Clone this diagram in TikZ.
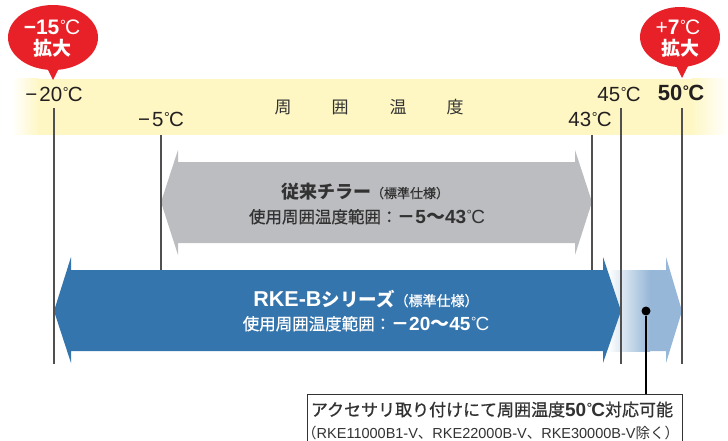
\documentclass[tikz,border=0pt]{standalone}
\usepackage{fontspec}
\setmainfont{Liberation Sans}
\newfontfamily\jp{Noto Sans CJK JP}
\newfontfamily\jpm{Noto Sans CJK JP}[FakeBold=0.7]
\newcommand{\fs}[1]{\fontsize{#1}{#1}\selectfont}
\newcommand{\dgc}{\kern0.03em\raisebox{0.2em}{\scalebox{0.7}{°}}\kern-0.04em C}
\definecolor{band}{RGB}{254,247,196}
\definecolor{redb}{RGB}{232,32,40}
\definecolor{grayarr}{RGB}{188,189,192}
\definecolor{bluearr}{RGB}{53,117,173}
\definecolor{lightarr}{RGB}{150,183,215}
\definecolor{tick}{RGB}{80,80,80}
\definecolor{txt}{RGB}{35,31,32}
\definecolor{darktxt}{RGB}{50,50,50}
\begin{document}
\begin{tikzpicture}[x=1pt,y=-1pt,
  tickline/.style={draw=tick, line width=1.2pt},
  lbl/.style={anchor=base, inner sep=0pt, text=txt},
  bandtxt/.style={inner sep=0pt, text=darktxt, font=\jp\fs{17}},
  whitetxt/.style={anchor=base, inner sep=0pt, text=white},
  graytxt/.style={anchor=base, inner sep=0pt, text=darktxt},
  bubble/.style={fill=redb}]
\useasboundingbox (0,0) rectangle (728,441);
\clip (0,0) rectangle (728,441);

% temperature band
\fill[band] (38,79) rectangle (692,135);
\shade[left color=white,right color=band] (12,79) rectangle (38.5,135);
\shade[left color=band,right color=white] (691.5,79) rectangle (728,135);
\node[bandtxt] (c1) at (283,107) {周};
\node[bandtxt] (c2) at (340,107) {囲};
\node[bandtxt] (c3) at (398,107) {温};
\node[bandtxt] (c4) at (455,107) {度};

% scale labels
\node[lbl] (lm20) at (54,102) {\fs{20.5}−\kern2pt 20\dgc};
\node[lbl] (lm5) at (161,127) {\fs{20.5}−\kern2pt 5\dgc};
\node[lbl] (l43) at (590,127) {\fs{20.5}43\dgc};
\node[lbl] (l45) at (619,102) {\fs{20.5}45\dgc};
\node[lbl] (l50) at (681,101) {\fs{22}\bfseries 50\dgc};

% bubbles
\fill[bubble] (53,37.5) ellipse [x radius=45, y radius=32.5];
\fill[bubble] (44,62) -- (53,80) -- (62,62) -- cycle;
\node[whitetxt] (b1a) at (52,35) {\fs{21}\bfseries −15\mdseries\dgc};
\node[whitetxt] (b1b) at (52,56) {\jp\bfseries\fs{19}拡大};
\fill[bubble] (680,37) ellipse [x radius=40, y radius=30];
\fill[bubble] (673,60) -- (682,78) -- (691,60) -- cycle;
\node[whitetxt] (b2a) at (678,35) {\fs{21}+\bfseries 7\mdseries\dgc};
\node[whitetxt] (b2b) at (680,56) {\jp\bfseries\fs{19}拡大};

% conventional chiller arrow
\fill[grayarr] (161,202) -- (178,150) -- (178,162) -- (575,162) -- (575,150)
  -- (592,202) -- (575,255) -- (575,243) -- (178,243) -- (178,255) -- cycle;
\node[graytxt] (g1) at (365,198) {{\jp\bfseries\fs{18}従来チラー}{\jpm\fs{13}（標準仕様）}};
\node[graytxt] (g2) at (367,223) {{\jpm\fs{16.5}使用周囲温度範囲：}{\jp\bfseries\fs{18}－}\bfseries\fs{19}5{\jp ～}43\mdseries\dgc};

% extension (accessory)
\fill[lightarr] (608,270) -- (666,270) -- (666,257) -- (682,311) -- (666,363) -- (666,351) -- (608,351) -- cycle;
\shade[left color=white,right color=lightarr] (608,270) rectangle (650,351);

% RKE-B arrow
\fill[bluearr] (54,311) -- (71,257) -- (71,270) -- (603,270) -- (603,257)
  -- (621,311) -- (603,363) -- (603,351) -- (71,351) -- (71,363) -- cycle;
\node[whitetxt] (r1) at (366,306) {{\bfseries\fs{21.5}RKE-B}{\jp\bfseries\fs{18.5}シリーズ}{\jpm\fs{14}（標準仕様）}};
\node[whitetxt] (r2) at (366,330) {{\jpm\fs{16.5}使用周囲温度範囲：}{\jp\bfseries\fs{18}－}\bfseries\fs{19}20{\jp ～}45\mdseries\dgc};

% scale lines
\coordinate (t20) at (54,108);  \coordinate (e20) at (54,364);
\coordinate (t5) at (161,135);  \coordinate (e5) at (161,270);
\coordinate (t43) at (592,135); \coordinate (e43) at (592,270);
\coordinate (t45) at (621,108); \coordinate (e45) at (621,364);
\coordinate (t50) at (682,108); \coordinate (e50) at (682,364);
\draw[tickline] (t20) -- (e20);
\draw[tickline] (t5) -- (e5);
\draw[tickline] (t43) -- (e43);
\draw[tickline] (t45) -- (e45);
\draw[tickline] (t50) -- (e50);

% note box
\node[draw=darktxt, line width=1.2pt, fill=white, anchor=north west,
  minimum width=375, minimum height=70, inner sep=0pt] (box) at (307,394) {};
\node[graytxt] (n1) at (492,416) {{\jpm\fs{17}アクセサリ取り付けにて周囲温度}{\bfseries\fs{19}50\dgc}{\jpm\fs{17}対応可能}};
\node[graytxt, anchor=base west] (n2) at (302,438) {\fs{14.5}{\jp （}RKE11000B1-V{\jp 、}RKE22000B-V{\jp 、}RKE30000B-V{\jp 除く）}};
\node[circle, fill=black, inner sep=0pt, minimum size=9] (dot) at (646,311) {};
\draw[draw=black, line width=1.3pt] (dot) -- (dot |- box.north);
\end{tikzpicture}
\end{document}
